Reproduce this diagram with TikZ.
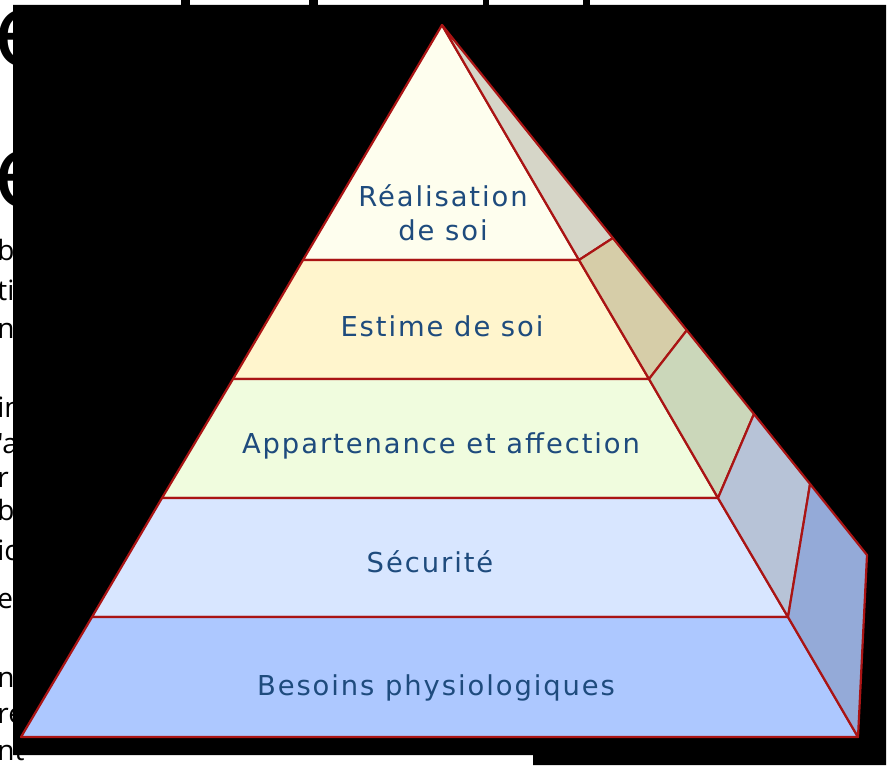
\documentclass[tikz,border=0pt]{standalone}
\usepackage{fontspec}
\setmainfont{DejaVu Sans}
\newfontfamily\pyrfont[LetterSpace=7]{DejaVu Sans}
\newfontfamily\pagefont{Open Sans}
\usepackage{xcolor}
\usetikzlibrary{calc}

\definecolor{bord}{RGB}{170,20,20}
\definecolor{texte}{RGB}{30,75,125}
\definecolor{niveauA}{RGB}{254,254,238}
\definecolor{niveauB}{RGB}{255,245,205}
\definecolor{niveauC}{RGB}{240,252,222}
\definecolor{niveauD}{RGB}{216,230,255}
\definecolor{niveauE}{RGB}{173,200,255}
\definecolor{faceA}{RGB}{214,214,200}
\definecolor{faceB}{RGB}{214,205,168}
\definecolor{faceC}{RGB}{203,215,186}
\definecolor{faceD}{RGB}{183,195,215}
\definecolor{faceE}{RGB}{148,170,216}

\tikzset{
  niveau/.style={draw=bord, line width=1.1pt, line join=round},
  etiquette/.style={text=texte, inner sep=0pt, align=center,
    font=\pyrfont\fontsize{13.7}{17}\selectfont},
  fragment/.style={anchor=base west, inner sep=0pt,
    font=\pagefont\fontsize{14}{17}\selectfont},
  grandE/.style={anchor=base west, inner sep=0pt,
    font=\pagefont\fontsize{52}{60}\selectfont}
}

\begin{document}
\begin{tikzpicture}[x=0.5pt,y=-0.5pt]
        \useasboundingbox (0,0) rectangle (892,765);

        % Page du fond
        \fill[white] (0,0) rectangle (892,765);
        \path (-7,67) node[grandE] (e1) {e};
        \path (-7,207) node[grandE] (e2) {e};
        \path (-3,260) node[fragment] (frag1) {bl};
        \path (-3,300) node[fragment] (frag2) {ti};
        \path (-3,338) node[fragment] (frag3) {n};
        \path (-3,417) node[fragment] (frag4) {in};
        \path (-3,453) node[fragment] (frag5) {'a};
        \path (-3,487) node[fragment] (frag6) {r};
        \path (-3,520) node[fragment] (frag7) {bl};
        \path (-3,560) node[fragment] (frag8) {ic};
        \path (-3,608) node[fragment] (frag9) {e};
        \path (-3,687) node[fragment] (frag10) {n};
        \path (-3,723) node[fragment] (frag11) {re};
        \path (-3,760) node[fragment] (frag12) {nt};
        \fill[black] (181,0) rectangle (190,5);
        \fill[black] (309,0) rectangle (318,5);
        \fill[black] (483,0) rectangle (489,5);
        \fill[black] (583,0) rectangle (590,5);

        % Fond noir
        \fill[black] (13,5) -- (886,5) -- (886,765) -- (533,765)
          -- (533,755) -- (13,755) -- cycle;

        % Sommets
        \coordinate (S) at (442,25);
        \coordinate (G1) at (303,260);
        \coordinate (G2) at (233,379);
        \coordinate (G3) at (162,498);
        \coordinate (G4) at (92,617);
        \coordinate (G5) at (21,737);
        \coordinate (D1) at (579,260);
        \coordinate (D2) at (649,379);
        \coordinate (D3) at (718,498);
        \coordinate (D4) at (788,617);
        \coordinate (D5) at (858,737);
        \coordinate (F5) at (867,555);
        \coordinate (F1) at ($(S)!0.402!(F5)$);
        \coordinate (F2) at ($(S)!0.576!(F5)$);
        \coordinate (F3) at ($(S)!0.734!(F5)$);
        \coordinate (F4) at ($(S)!0.866!(F5)$);

        % Face avant
        \filldraw[niveau, fill=niveauA] (S) -- (G1) -- (D1) -- cycle;
        \filldraw[niveau, fill=niveauB] (G1) -- (G2) -- (D2) -- (D1) -- cycle;
        \filldraw[niveau, fill=niveauC] (G2) -- (G3) -- (D3) -- (D2) -- cycle;
        \filldraw[niveau, fill=niveauD] (G3) -- (G4) -- (D4) -- (D3) -- cycle;
        \filldraw[niveau, fill=niveauE] (G4) -- (G5) -- (D5) -- (D4) -- cycle;

        % Face de cote
        \filldraw[niveau, fill=faceA] (S) -- (D1) -- (F1) -- cycle;
        \filldraw[niveau, fill=faceB] (D1) -- (D2) -- (F2) -- (F1) -- cycle;
        \filldraw[niveau, fill=faceC] (D2) -- (D3) -- (F3) -- (F2) -- cycle;
        \filldraw[niveau, fill=faceD] (D3) -- (D4) -- (F4) -- (F3) -- cycle;
        \filldraw[niveau, fill=faceE] (D4) -- (D5) -- (F5) -- (F4) -- cycle;

        % Textes
        \path (443,240) node[etiquette, anchor=base] (realisation) {Réalisation\\de soi};
        \path (442,336) node[etiquette, anchor=base] (estime) {Estime de soi};
        \path (441,453) node[etiquette, anchor=base] (appartenance) {Appartenance et affection};
        \path (430,572) node[etiquette, anchor=base] (securite) {Sécurité};
        \path (436,695) node[etiquette, anchor=base] (besoins) {Besoins physiologiques};
\end{tikzpicture}
\end{document}
